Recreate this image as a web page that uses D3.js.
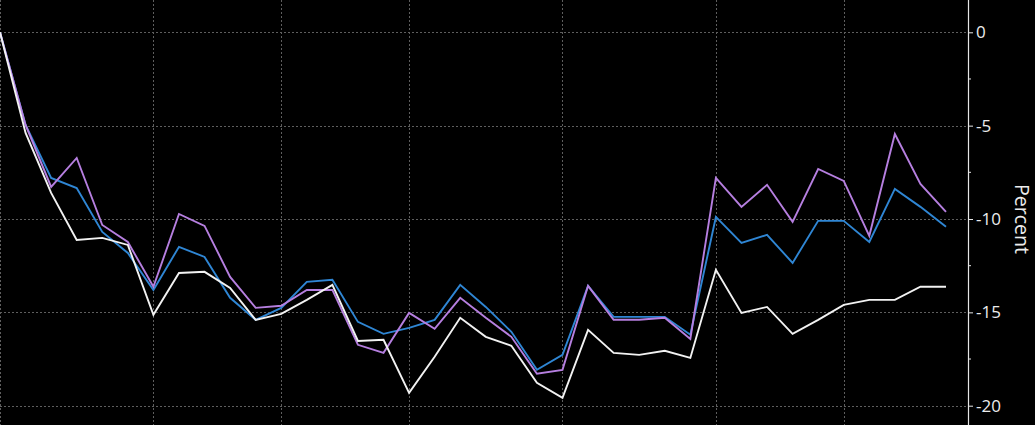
<!DOCTYPE html>
<html>
<head>
<meta charset="utf-8">
<script src="https://cdn.jsdelivr.net/npm/d3@7"></script>
<style>
  html, body { margin: 0; padding: 0; background: #000; }
  svg { display: block; }
</style>
</head>
<body>
<div id="chart"></div>
<script>
var svgWidth = 1035, svgHeight = 425;

// data: 38 observations per series, percent change
var whiteSeries = [0, -5.39, -8.60, -11.12, -11.01, -11.39, -15.13, -12.89, -12.83, -13.69,
  -15.40, -15.08, -14.33, -13.53, -16.53, -16.47, -19.31, -17.38, -15.29, -16.31,
  -16.79, -18.77, -19.58, -15.94, -17.17, -17.28, -17.06, -17.44, -12.72, -15.03,
  -14.71, -16.15, -15.40, -14.60, -14.33, -14.33, -13.63, -13.63];
var blueSeries = [0, -4.96, -7.80, -8.34, -10.69, -11.82, -13.80, -11.49, -12.03, -14.22,
  -15.40, -14.76, -13.37, -13.26, -15.51, -16.15, -15.83, -15.40, -13.53, -14.71,
  -16.04, -18.08, -17.28, -13.58, -15.24, -15.24, -15.24, -16.20, -9.89, -11.28,
  -10.85, -12.35, -10.10, -10.10, -11.23, -8.39, -9.35, -10.42];
var purpleSeries = [0, -4.96, -8.28, -6.73, -10.32, -11.23, -13.63, -9.73, -10.37, -13.10,
  -14.76, -14.65, -13.80, -13.80, -16.74, -17.17, -15.03, -15.88, -14.22, -15.29,
  -16.31, -18.29, -18.08, -13.58, -15.40, -15.40, -15.29, -16.42, -7.80, -9.35,
  -8.17, -10.15, -7.32, -7.96, -10.90, -5.45, -8.12, -9.62];
var gridIndex = [0, 6, 11, 16, 22, 28, 33];
var yTicks = [0, -5, -10, -15, -20];
var yMinorTicks = [-2.5, -7.5, -12.5, -17.5];

var axisX = 968;

var svg = d3.select("#chart").append("svg")
    .attr("width", svgWidth)
    .attr("height", svgHeight)
    .style("background", "#000");

// scales
var xScale = d3.scaleLinear().domain([0, 37]).range([0, 946]);
var yScale = d3.scaleLinear().domain([-20, 0]).range([405.7, 32.3]);

// grid
var grid = svg.append("g").attr("class", "grid");
grid.selectAll(".hgrid")
    .data(yTicks)
    .enter().append("line")
    .attr("x1", 0).attr("x2", axisX)
    .attr("y1", function(d) { return Math.round(yScale(d)) + 0.5; })
    .attr("y2", function(d) { return Math.round(yScale(d)) + 0.5; })
    .attr("stroke", "#5e5e5e")
    .attr("stroke-width", 1)
    .attr("stroke-dasharray", "2,2");
grid.selectAll(".vgrid")
    .data(gridIndex)
    .enter().append("line")
    .attr("x1", function(d) { return Math.round(xScale(d)) + 0.5; })
    .attr("x2", function(d) { return Math.round(xScale(d)) + 0.5; })
    .attr("y1", 0).attr("y2", svgHeight)
    .attr("stroke", "#5e5e5e")
    .attr("stroke-width", 1)
    .attr("stroke-dasharray", "2,2");

// lines
var line = d3.line()
    .x(function(d, i) { return xScale(i); })
    .y(function(d) { return yScale(d); });

var series = [
  { values: blueSeries, color: "#2f86d4" },
  { values: purpleSeries, color: "#b67fe0" },
  { values: whiteSeries, color: "#f2f2f2" }
];

svg.selectAll(".series")
    .data(series)
    .enter().append("path")
    .attr("class", "series")
    .attr("d", function(d) { return line(d.values); })
    .attr("fill", "none")
    .attr("stroke", function(d) { return d.color; })
    .attr("stroke-width", 1.9)
    .attr("stroke-linejoin", "miter");

// right axis
var yAxis = svg.append("g")
    .attr("transform", "translate(" + axisX + ",0)")
    .call(d3.axisRight(yScale)
        .tickValues(yTicks)
        .tickSize(5)
        .tickPadding(3)
        .tickFormat(function(d) { return d === 0 ? "0" : "-" + Math.abs(d); }));

yAxis.select(".domain").remove();
yAxis.append("line")
    .attr("x1", 0.5).attr("x2", 0.5)
    .attr("y1", 0).attr("y2", svgHeight)
    .attr("stroke", "#e6e6e6")
    .attr("stroke-width", 1.2);
yAxis.selectAll(".tick line")
    .attr("stroke", "#e6e6e6");
yAxis.selectAll(".tick text")
    .attr("fill", "#ececec")
    .style("font-family", "'Open Sans', sans-serif")
    .style("font-size", "17px");

yAxis.selectAll(".minor")
    .data(yMinorTicks)
    .enter().append("line")
    .attr("x1", 0).attr("x2", 3)
    .attr("y1", function(d) { return yScale(d); })
    .attr("y2", function(d) { return yScale(d); })
    .attr("stroke", "#e6e6e6");

// axis title
svg.append("text")
    .attr("transform", "translate(1015," + yScale(-10) + ") rotate(90)")
    .attr("text-anchor", "middle")
    .attr("fill", "#ececec")
    .style("font-family", "'Open Sans', sans-serif")
    .style("font-size", "19.5px")
    .text("Percent");
</script>
</body>
</html>
